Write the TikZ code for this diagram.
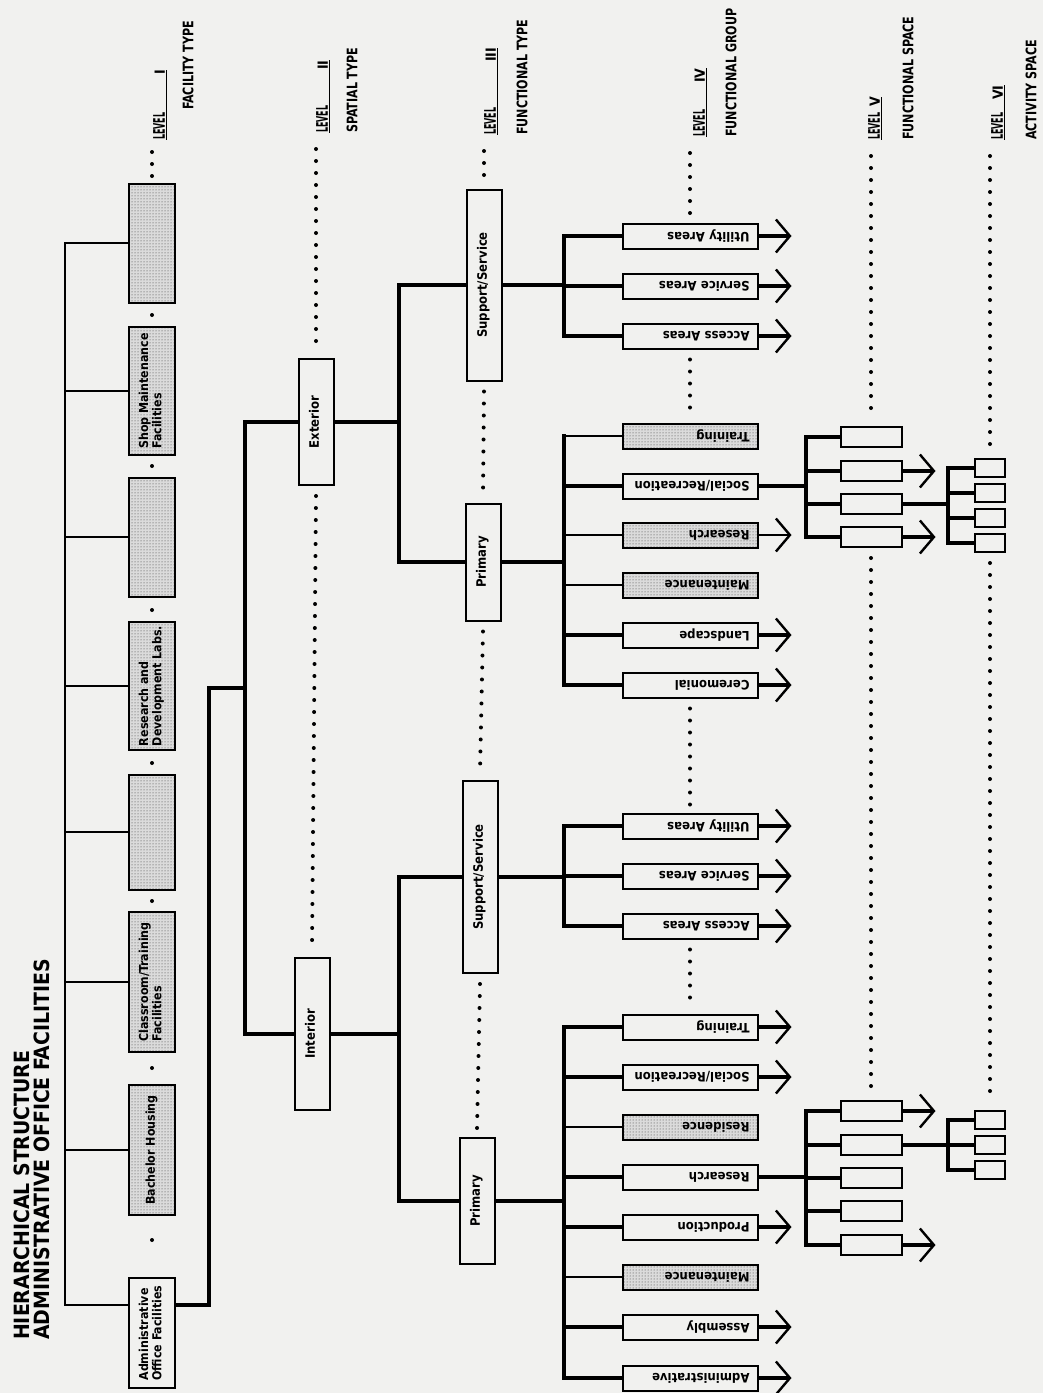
\documentclass[tikz,border=0pt]{standalone}
\usepackage{fontspec}
\IfFontExistsTF{DejaVuSansCondensed-Bold.ttf}
  {\setmainfont{DejaVuSansCondensed-Bold.ttf}}
  {\setmainfont{DejaVuSans-Bold.ttf}}
\usepackage{tikz}
\usetikzlibrary{calc}
\usetikzlibrary{arrows.meta}
\usetikzlibrary{patterns}
\usetikzlibrary{backgrounds}
\definecolor{paper}{RGB}{241,241,239}
\newcommand{\boxfont}{\fontsize{13}{13}\selectfont}
\newcommand{\lblfont}{\fontsize{14.5}{15}\selectfont}
\newcommand{\uptext}[1]{\rotatebox{90}{\begin{tabular}{@{}l@{}}#1\end{tabular}}}
\newcommand{\fliptext}[1]{\rotatebox{180}{#1}}
\newcommand{\cat}[1]{\scalebox{0.85}[1]{#1}}
\newcommand{\lvl}[2]{\underline{\scalebox{0.55}[1]{\fontsize{16}{16}\selectfont LEVEL}\hspace{#2}{\fontsize{14}{14}\selectfont #1}}}
\tikzset{
    box/.style={draw, line width=2pt, fill=paper, inner sep=0pt, font=\boxfont},
    screen/.style={preaction={fill=black!14}, pattern=dots, pattern color=black!80},
    plain/.style={},
    lone/.style={box, minimum width=46pt, minimum height=#1, font=\fontsize{12.3}{12.8}\selectfont},
    ltwo/.style={box, minimum width=35pt, minimum height=#1},
    lfour/.style={box, minimum width=135pt, minimum height=25pt, text width=119pt, align=right, inner xsep=8pt},
    lfive/.style={box, minimum width=61pt, minimum height=20pt},
    lsix/.style={box, minimum width=30pt, minimum height=18pt},
    heavy/.style={line width=4.5pt, line cap=rect},
    light/.style={line width=1.8pt},
    chevron/.style={line cap=butt, -{Straight Barb[length=14pt,width=33pt,line width=2.4pt]}},
    nochev/.style={draw=none},
    dotcol/.style={line width=4pt, line cap=round, dash pattern=on 0pt off 12pt},
    lvltext/.style={rotate=90, anchor=west, inner sep=0pt, font=\lblfont}
}

\begin{document}
\begin{tikzpicture}[x=1pt, y=-1pt]
    \useasboundingbox (0,0) rectangle (1043,1393);
    \node[rotate=90, anchor=north west, inner sep=0pt, align=left, font=\fontsize{21}{20}\selectfont] (title) at (14,1340) {HIERARCHICAL STRUCTURE\\ADMINISTRATIVE OFFICE FACILITIES};

    \node[lvltext] (l1) at (160,140) {\lvl{I}{38pt}};
    \node[lvltext] at (188,110) {\cat{FACILITY TYPE}};
    \node[lvltext] (l2) at (323,133) {\lvl{II}{36pt}};
    \node[lvltext] at (352,133) {\cat{SPATIAL TYPE}};
    \node[lvltext] (l3) at (491,135) {\lvl{III}{46pt}};
    \node[lvltext] at (522,135) {\cat{FUNCTIONAL TYPE}};
    \node[lvltext] (l4) at (700,137) {\lvl{IV}{27pt}};
    \node[lvltext] at (731,137) {\cat{FUNCTIONAL GROUP}};
    \node[lvltext] (l5) at (875,140) {\lvl{V}{6pt}};
    \node[lvltext] at (908,140) {\cat{FUNCTIONAL SPACE}};
    \node[lvltext] (l6) at (998,140) {\lvl{VI}{13pt}};
    \node[lvltext] at (1031,140) {\cat{ACTIVITY SPACE}};

    \node[lone=110pt] (adm) at (152,1333) {\uptext{Administrative\\Office Facilities}};
    \node[lone=130pt, screen] (bh) at (152,1150) {\uptext{Bachelor Housing}};
    \node[lone=140pt, screen] (cl) at (152,982) {\uptext{Classroom/Training\\Facilities}};
    \node[lone=115pt, screen] (f4) at (152,832) {};
    \node[lone=128pt, screen] (rd) at (152,686) {\uptext{Research and\\Development Labs.}};
    \node[lone=119pt, screen] (f6) at (152,537) {};
    \node[lone=128pt, screen] (sm) at (152,391) {\uptext{Shop Maintenance\\Facilities}};
    \node[lone=119pt, screen] (f8) at (152,243) {};
    \foreach \y in {152,164,176,315,466,610,763,901,1068,1240}
        \fill (152,\y) circle[radius=2pt];

    \node[ltwo=126pt] (ext) at (316,422) {\uptext{Exterior}};
    \node[ltwo=152pt] (int) at (312,1034) {\uptext{Interior}};

    \node[ltwo=191pt] (esup) at (484,285) {\uptext{Support/Service}};
    \node[ltwo=117pt] (epri) at (483,562) {\uptext{Primary}};
    \node[ltwo=192pt] (isup) at (480,877) {\uptext{Support/Service}};
    \node[ltwo=126pt] (ipri) at (477,1201) {\uptext{Primary}};

    \coordinate (sp1) at (65,0);
    \coordinate (s3) at (399,0);
    \coordinate (s4) at (564,0);
    \coordinate (s5) at (806,0);
    \coordinate (s6) at (948,0);

    \foreach \y/\n/\t/\s in {236/eu/Utility Areas/plain, 286/es/Service Areas/plain, 336/ea/Access Areas/plain,
        436/et/Training/screen, 486/eo/{Social/Recreation}/plain, 535/er/Research/screen,
        585/em/Maintenance/screen, 635/el/Landscape/plain, 685/ec/Ceremonial/plain,
        826/iu/Utility Areas/plain, 876/is/Service Areas/plain, 926/ia/Access Areas/plain,
        1027/it/Training/plain, 1077/io/{Social/Recreation}/plain, 1127/ie/Residence/screen,
        1177/ir/Research/plain, 1227/ip/Production/plain, 1277/im/Maintenance/screen,
        1327/iy/Assembly/plain, 1378/ib/Administrative/plain}
        \node[lfour, \s] (\n) at (690,\y) {\fliptext{\t}};

    \foreach \y/\n in {437/e51, 471/e52, 504/e53, 537/e54, 1111/i51, 1145/i52, 1178/i53, 1211/i54, 1245/i55}
        \node[lfive] (\n) at (871,\y) {};
    \foreach \y/\n in {468/e61, 493/e62, 518/e63, 543/e64, 1120/i61, 1145/i62, 1170/i63}
        \node[lsix] (\n) at (990,\y) {};

    \begin{scope}[on background layer]
        \fill[paper] (0,0) rectangle (1043,1393);

        \draw[light] ([yshift=28pt]adm.west) -| (sp1 |- f8.west) -- (f8.west);
        \foreach \b in {bh,cl,f4,rd,f6,sm}
            \draw[light] (\b.west) -- (\b.west -| sp1);

        \draw[heavy] ([yshift=28pt]adm.east) -- ++(33,0) |- (245,688) coordinate (j2);
        \draw[heavy] (ext.west) -| (j2) |- (int.west);

        \draw[heavy] (esup.west) -| (s3 |- ext.east) |- (epri.west);
        \draw[heavy] (ext.east) -- (ext.east -| s3);
        \draw[heavy] (isup.west) -| (s3 |- int.east) |- (ipri.west);
        \draw[heavy] (int.east) -- (int.east -| s3);

        \foreach \p/\a/\b in {esup/eu/ea, epri/et/ec, isup/iu/ia, ipri/it/ib} {
            \draw[heavy] (\p.east) -- (\p.east -| s4);
            \draw[heavy] (\a.west -| s4) -- (\b.west -| s4);
        }
        \foreach \n/\w/\a in {eu/heavy/chevron, es/heavy/chevron, ea/heavy/chevron,
            et/light/nochev, eo/heavy/nochev, er/light/chevron, em/light/nochev, el/heavy/chevron, ec/heavy/chevron,
            iu/heavy/chevron, is/heavy/chevron, ia/heavy/chevron,
            it/heavy/chevron, io/heavy/chevron, ie/light/nochev, ir/heavy/nochev, ip/heavy/chevron,
            im/light/nochev, iy/heavy/chevron, ib/heavy/chevron} {
            \draw[\w] (\n.west -| s4) -- (\n.west);
            \draw[\w, \a] (\n.east) -- ++(33,0);
        }

        \foreach \p/\a/\b in {eo/e51/e54, ir/i51/i55} {
            \draw[heavy] (\p.east) -- (\p.east -| s5);
            \draw[heavy] (\a.west -| s5) -- (\b.west -| s5);
        }
        \foreach \n/\a in {e51/nochev, e52/chevron, e53/nochev, e54/chevron,
            i51/chevron, i52/nochev, i53/nochev, i54/nochev, i55/chevron} {
            \draw[heavy] (\n.west -| s5) -- (\n.west);
            \draw[heavy, \a] (\n.east) -- ++(33,0);
        }

        \foreach \p/\a/\b in {e53/e61/e64, i52/i61/i63} {
            \draw[heavy] (\p.east) -- (\p.east -| s6);
            \draw[heavy] (\a.west -| s6) -- (\b.west -| s6);
        }
        \foreach \n in {e61,e62,e63,e64,i61,i62,i63}
            \draw[heavy] (\n.west -| s6) -- (\n.west);

        \draw[dotcol] ($(ext.north |- l2.west)+(0,16)$) -- ($(ext.north)+(0,-8)$);
        \foreach \l/\b in {l3/esup, l4/eu, l5/e51, l6/e61}
            \draw[dotcol] ($(\b.north |- \l.west)+(0,16)$) -- ($(\b.north)+(0,-8)$);
        \foreach \a/\b in {ext/int, esup/epri, epri/isup, isup/ipri, ea/et, ec/iu, ia/it, e54/i51, e64/i61}
            \draw[dotcol] ($(\a.south)+(0,10)$) -- ($(\b.north)+(0,-8)$);
    \end{scope}
\end{tikzpicture}
\end{document}
